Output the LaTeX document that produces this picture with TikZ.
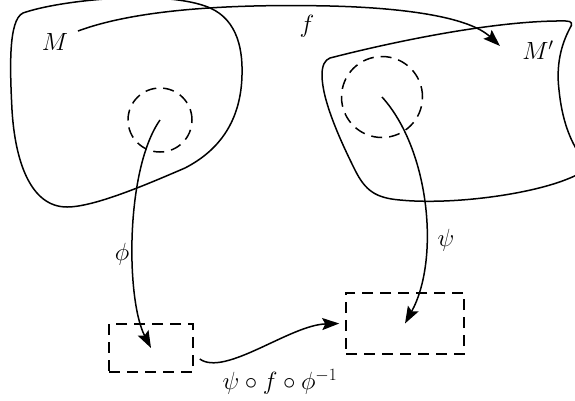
\documentclass[tikz,border=0pt]{standalone}
\usetikzlibrary{arrows.meta}
\begin{document}
\begin{tikzpicture}[x=1pt,y=-1pt,
  line/.style={line width=1.5pt},
  dsh/.style={line width=1.5pt, dash pattern=on 11pt off 7pt},
  arr/.style={line width=1.5pt, -{Stealth[length=17pt,width=12pt,inset=3pt]}},
  lbl/.style={font=\fontsize{24.5}{29}\selectfont, inner sep=0pt},
  every node/.style={inner sep=0pt}]
\useasboundingbox (0,0) rectangle (575,400);
\clip (0,0) rectangle (575,400);
% manifold M
\draw[line] (23,13) .. controls (60,0) and (160,-10) .. (205,6)
  .. controls (235,16) and (243,45) .. (242,75)
  .. controls (241,120) and (220,150) .. (185,168)
  .. controls (150,183) and (95,207) .. (67,207)
  .. controls (30,207) and (15,160) .. (12,110)
  .. controls (10,70) and (8,20) .. (23,13) -- cycle;
% manifold M'
\draw[line] (330,58) .. controls (400,40) and (500,20) .. (566,21)
  .. controls (572,21) and (573,24) .. (570,28)
  .. controls (561,45) and (556,65) .. (559,90)
  .. controls (562,120) and (570,140) .. (580,155)
  .. controls (590,165) and (585,172) .. (570,178)
  .. controls (530,195) and (450,205) .. (400,200)
  .. controls (375,198) and (365,190) .. (355,170)
  .. controls (340,140) and (322,100) .. (322,75)
  .. controls (322,65) and (325,60) .. (330,58) -- cycle;
% charts
\node[dsh, circle, draw, minimum size=64pt] (c1) at (160,120) {};
\node[dsh, circle, draw, minimum size=81pt] (c2) at (382,97) {};
\node[dsh, rectangle, draw, minimum width=84pt, minimum height=48pt] (r1) at (151,348) {};
\node[dsh, rectangle, draw, minimum width=118pt, minimum height=61pt] (r2) at (405,323.5) {};
% labels
\node[lbl] (M) at (55,42) {$M$};
\node[lbl] (Mp) at (538,50) {$M'$};
\node[lbl] (fl) at (307,26) {$f$};
\node[lbl] (phil) at (122,254) {$\phi$};
\node[lbl] (psil) at (446,240) {$\psi$};
\node[lbl] (comp) at (280,382) {$\psi\circ f\circ\phi^{-1}$};
% arrows
\coordinate (fs) at (78,31);
\coordinate (fe) at (500,46);
\draw[arr] (fs) .. controls (140,8) and (240,4) .. (330,6) .. controls (410,8) and (470,18) .. (fe);
\draw[arr] (c1.center) .. controls (125,170) and (126,300) .. (r1.center);
\draw[arr] (c2.center) .. controls (430,150) and (440,260) .. (r2.center);
\draw[arr] ([shift={(6,11)}]r1.east) .. controls (225,377) and (290,325) .. ([xshift=-6pt]r2.west);
\end{tikzpicture}
\end{document}
